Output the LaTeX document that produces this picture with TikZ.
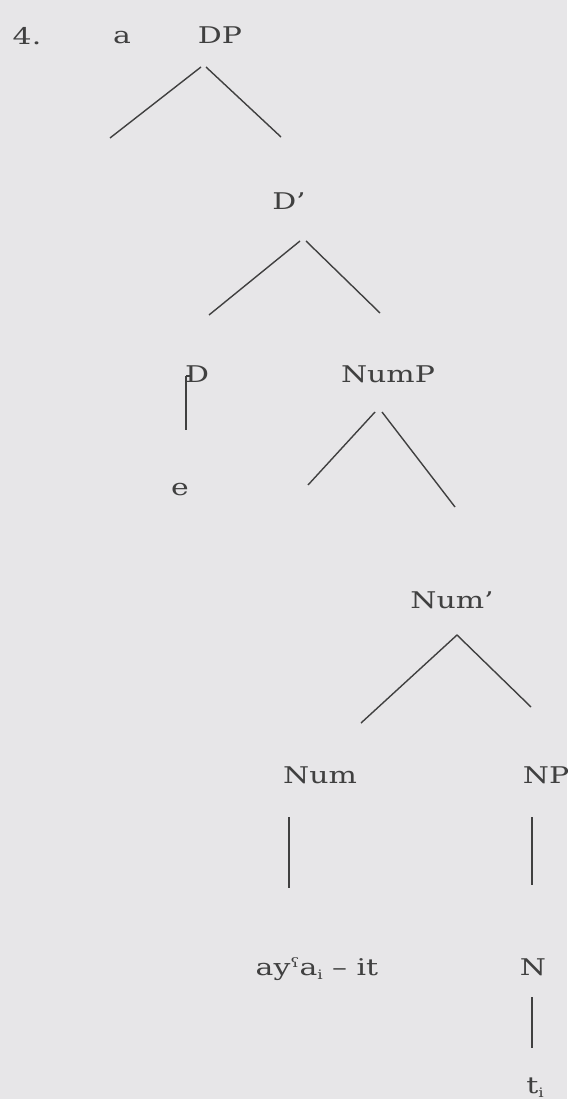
\documentclass[tikz,border=0pt]{standalone}
\usepackage{fontspec}
\setmainfont{DejaVu Serif}[FakeStretch=1.3]
\definecolor{paper}{HTML}{E7E6E8}
\definecolor{ink}{HTML}{404040}
\newcommand{\subsc}[1]{\raisebox{-0.35ex}{\fontsize{13}{13}\selectfont #1}}
\newcommand{\supsc}[1]{\raisebox{0.6ex}{\fontsize{13}{13}\selectfont #1}}
\begin{document}
\begin{tikzpicture}[x=1pt,y=-1pt,
  lbl/.style={inner sep=0pt,anchor=base,text=ink,font=\fontsize{23}{27}\selectfont},
  branch/.style={draw=ink,line width=1.4pt}]
\fill[paper] (0,0) rectangle (567,1099);
\useasboundingbox (0,0) rectangle (567,1099);
% labels
\node[lbl] (num4) at (27,45) {4.};
\node[lbl] (a) at (122,44) {a};
\node[lbl] (DP) at (220,44) {DP};
\node[lbl] (Dbar) at (289,210) {D'};
\node[lbl] (D) at (197,382) {D};
\node[lbl] (NumP) at (388,382) {NumP};
\node[lbl] (e) at (180,495) {e};
\node[lbl] (Numbar) at (452,608) {Num'};
\node[lbl] (Num) at (320,783) {Num};
\node[lbl] (NP) at (546,783) {NP};
\node[lbl] (word) at (317,975) {ay\supsc{ʕ}a\subsc{i} – it};
\node[lbl] (N) at (533,975) {N};
\node[lbl] (t) at (535,1093) {t\subsc{i}};
% branch end points
\coordinate (dpL) at (201,67);  \coordinate (dpLe) at (110,138);
\coordinate (dpR) at (206,67);  \coordinate (dpRe) at (281,137);
\coordinate (dbL) at (300,241); \coordinate (dbLe) at (209,315);
\coordinate (dbR) at (306,241); \coordinate (dbRe) at (380,313);
\coordinate (dT) at (186,376);  \coordinate (dB) at (186,430);
\coordinate (npL) at (375,412); \coordinate (npLe) at (308,485);
\coordinate (npR) at (382,412); \coordinate (npRe) at (455,507);
\coordinate (nbL) at (457,635); \coordinate (nbLe) at (361,723);
\coordinate (nbRe) at (531,707);
\coordinate (numT) at (289,817); \coordinate (numB) at (289,888);
\coordinate (nphT) at (532,817); \coordinate (nphB) at (532,885);
\coordinate (nT) at (532,997);   \coordinate (nB) at (532,1048);
% branches
\draw[branch] (dpL) -- (dpLe);
\draw[branch] (dpR) -- (dpRe);
\draw[branch] (dbL) -- (dbLe);
\draw[branch] (dbR) -- (dbRe);
\draw[branch] (dT) -- (dB);
\draw[branch] (dT) -- ++(4,0);
\draw[branch] (npL) -- (npLe);
\draw[branch] (npR) -- (npRe);
\draw[branch] (nbLe) -- (nbL) -- (nbRe);
\draw[branch] (numT) -- (numB);
\draw[branch] (nphT) -- (nphB);
\draw[branch] (nT) -- (nB);
\end{tikzpicture}
\end{document}
